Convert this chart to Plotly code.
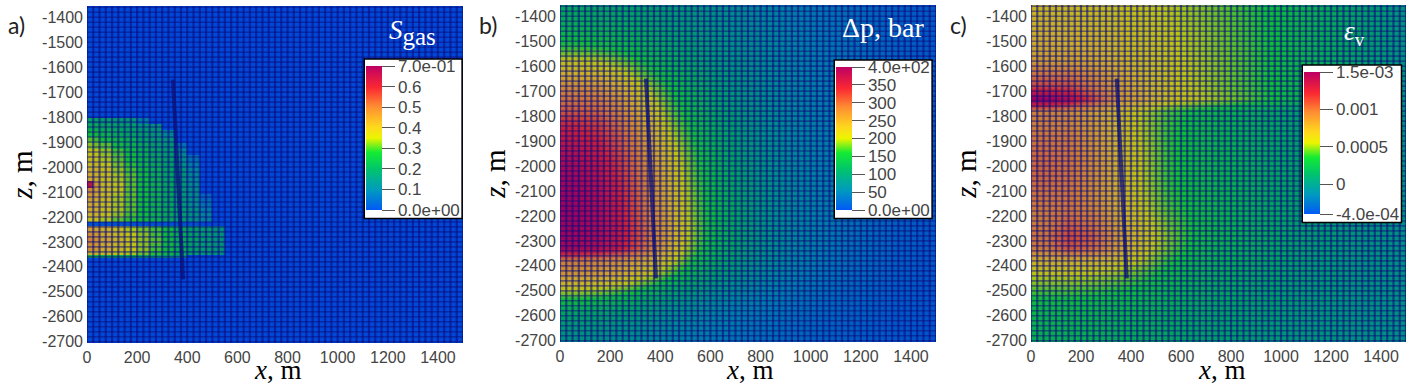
import numpy as np
import plotly.graph_objects as go

# ---------- colour scale (blue -> teal -> green -> yellow -> orange -> red -> crimson)
COLORSCALE = [
    [0.00, "rgb(0,90,245)"], [0.14, "rgb(0,155,190)"], [0.28, "rgb(0,195,110)"],
    [0.40, "rgb(20,235,50)"], [0.50, "rgb(235,245,0)"], [0.58, "rgb(255,215,30)"],
    [0.72, "rgb(255,140,50)"], [0.85, "rgb(250,40,50)"], [1.00, "rgb(190,0,100)"],
]

# ---------- panel a) gas saturation
a_x_edges = [0, 25, 50, 100, 150, 200, 250, 300, 350, 400, 450, 500, 550, 1500]
a_z_edges = [-1355, -1803, -1828, -1853, -1878, -1903, -1928, -1953, -1978, -2003, -2028,
             -2058, -2083, -2108, -2133, -2158, -2183, -2205, -2222, -2236, -2260, -2285,
             -2310, -2335, -2352, -2366, -2705]
a_sgas = [
    [0, 0, 0, 0, 0, 0, 0, 0, 0, 0, 0, 0, 0],
    [.20, .20, .19, .18, .17, .10, 0, 0, 0, 0, 0, 0, 0],
    [.23, .23, .22, .21, .20, .18, .17, 0, 0, 0, 0, 0, 0],
    [.27, .27, .25, .23, .21, .20, .18, .13, 0, 0, 0, 0, 0],
    [.31, .30, .28, .26, .24, .21, .19, .17, 0, 0, 0, 0, 0],
    [.33, .32, .31, .28, .25, .23, .20, .18, .08, 0, 0, 0, 0],
    [.36, .35, .33, .30, .27, .24, .21, .19, .13, 0, 0, 0, 0],
    [.37, .36, .34, .31, .28, .25, .22, .20, .15, .08, 0, 0, 0],
    [.38, .38, .35, .32, .29, .26, .23, .20, .16, .10, 0, 0, 0],
    [.40, .39, .37, .33, .30, .27, .24, .21, .17, .12, 0, 0, 0],
    [.41, .40, .37, .34, .31, .28, .24, .21, .17, .13, 0, 0, 0],
    [.63, .44, .38, .35, .31, .28, .25, .22, .18, .14, 0, 0, 0],
    [.46, .43, .38, .35, .31, .28, .25, .22, .18, .15, 0, 0, 0],
    [.43, .41, .38, .34, .31, .28, .25, .22, .18, .15, .06, 0, 0],
    [.42, .40, .37, .34, .31, .28, .25, .22, .18, .15, .08, 0, 0],
    [.41, .40, .37, .34, .31, .28, .25, .23, .19, .16, .10, 0, 0],
    [.39, .39, .36, .33, .30, .28, .25, .23, .19, .16, .12, 0, 0],
    [.36, .36, .34, .31, .29, .27, .25, .22, .18, .15, .11, 0, 0],
    [.02, .02, .02, .02, .02, .02, .02, .02, .02, .02, 0, 0, 0],
    [.43, .42, .40, .37, .34, .32, .30, .27, .22, .20, .19, .17, 0],
    [.46, .44, .41, .38, .35, .33, .30, .27, .23, .20, .19, .17, 0],
    [.47, .45, .42, .39, .36, .33, .31, .27, .23, .21, .19, .17, 0],
    [.45, .44, .41, .38, .36, .33, .30, .27, .23, .20, .19, .17, 0],
    [.40, .39, .38, .36, .34, .32, .29, .26, .22, .20, .18, .16, 0],
    [.26, .26, .25, .24, .23, .22, .21, .19, .16, 0, 0, 0, 0],
    [0, 0, 0, 0, 0, 0, 0, 0, 0, 0, 0, 0, 0],
]

# ---------- common sampling of panels b) and c)
field_x = [50, 150, 250, 350, 450, 550, 650, 750, 850, 950, 1050, 1150, 1250, 1350, 1450]
field_z = [-1380, -1430, -1480, -1530, -1580, -1630, -1680, -1730, -1780, -1830, -1880,
           -1930, -1980, -2030, -2080, -2130, -2180, -2230, -2280, -2330, -2380, -2430,
           -2480, -2530, -2580, -2630, -2680]

# ---------- panel b) pressure change, bar
b_dp = [
    [125, 122, 118, 112, 105, 95, 85, 75, 65, 55, 48, 40, 32, 25, 20],
    [135, 132, 128, 118, 108, 98, 88, 78, 68, 58, 50, 42, 34, 26, 20],
    [150, 146, 138, 126, 114, 102, 92, 80, 70, 60, 50, 42, 34, 26, 20],
    [172, 168, 155, 138, 122, 108, 95, 83, 72, 62, 52, 43, 35, 27, 20],
    [205, 198, 180, 155, 132, 114, 98, 85, 74, 63, 53, 44, 35, 27, 20],
    [232, 225, 205, 172, 142, 120, 102, 88, 76, 64, 54, 44, 36, 27, 20],
    [262, 255, 230, 190, 155, 128, 106, 90, 77, 65, 55, 45, 36, 27, 20],
    [285, 278, 250, 208, 165, 134, 110, 92, 78, 66, 55, 45, 36, 27, 20],
    [305, 296, 265, 222, 175, 140, 114, 95, 80, 67, 56, 46, 36, 27, 20],
    [335, 320, 282, 235, 185, 147, 118, 97, 81, 68, 57, 46, 37, 28, 20],
    [350, 335, 295, 245, 195, 152, 122, 99, 83, 69, 57, 46, 37, 28, 20],
    [365, 348, 305, 255, 205, 158, 125, 101, 84, 70, 58, 47, 37, 28, 20],
    [378, 358, 315, 262, 212, 163, 128, 103, 85, 70, 58, 47, 37, 28, 20],
    [385, 365, 322, 268, 218, 167, 131, 105, 86, 71, 58, 47, 37, 28, 20],
    [390, 372, 330, 272, 222, 170, 133, 106, 87, 71, 58, 47, 37, 28, 20],
    [392, 375, 335, 276, 225, 172, 135, 107, 87, 71, 58, 47, 37, 28, 20],
    [395, 378, 340, 280, 228, 174, 136, 107, 87, 71, 58, 46, 36, 27, 20],
    [392, 378, 345, 285, 232, 176, 136, 106, 86, 70, 57, 46, 36, 27, 20],
    [390, 378, 348, 288, 232, 175, 134, 105, 85, 69, 56, 45, 35, 27, 20],
    [385, 372, 340, 282, 225, 168, 130, 102, 83, 67, 55, 44, 35, 26, 19],
    [275, 268, 255, 235, 200, 150, 118, 95, 78, 64, 52, 42, 33, 25, 19],
    [255, 248, 235, 210, 170, 130, 105, 85, 70, 58, 48, 39, 31, 24, 18],
    [215, 208, 192, 165, 130, 108, 90, 75, 63, 52, 44, 36, 29, 22, 17],
    [165, 160, 145, 125, 105, 90, 76, 65, 55, 46, 39, 32, 26, 20, 16],
    [125, 122, 112, 100, 86, 75, 65, 56, 48, 41, 34, 29, 24, 18, 15],
    [105, 103, 96, 86, 75, 66, 57, 49, 43, 37, 31, 26, 22, 17, 14],
    [90, 88, 82, 75, 66, 58, 50, 44, 38, 33, 28, 24, 20, 16, 13],
]

# ---------- panel c) volumetric strain, in units of 1e-4
c_ev = [
    [6.5, 6.4, 6.2, 6.0, 5.7, 5.4, 5.0, 4.5, 4.0, 3.5, 3.0, 2.4, 1.8, 1.2, 0.6],
    [6.8, 6.7, 6.5, 6.2, 5.9, 5.5, 5.1, 4.6, 4.1, 3.5, 3.0, 2.4, 1.8, 1.2, 0.6],
    [7.0, 6.9, 6.7, 6.4, 6.0, 5.6, 5.2, 4.7, 4.1, 3.6, 3.0, 2.4, 1.8, 1.2, 0.6],
    [7.3, 7.2, 7.0, 6.5, 6.1, 5.7, 5.2, 4.7, 4.2, 3.6, 3.0, 2.4, 1.8, 1.2, 0.6],
    [7.8, 7.7, 7.3, 6.8, 6.2, 5.8, 5.3, 4.8, 4.2, 3.6, 3.0, 2.4, 1.8, 1.2, 0.6],
    [9.5, 9.4, 8.4, 7.4, 6.5, 5.9, 5.3, 4.8, 4.2, 3.6, 3.0, 2.4, 1.8, 1.2, 0.6],
    [11.0, 10.8, 9.2, 7.8, 6.8, 6.0, 5.4, 4.8, 4.2, 3.6, 3.0, 2.3, 1.7, 1.1, 0.5],
    [15.0, 13.6, 10.8, 8.2, 7.2, 6.2, 5.6, 5.0, 4.4, 3.7, 3.0, 2.3, 1.7, 1.1, 0.5],
    [9.0, 8.6, 7.6, 6.5, 5.3, 4.2, 3.5, 3.0, 2.5, 2.0, 1.5, 1.1, 0.8, 0.5, 0.3],
    [9.0, 8.8, 7.8, 6.6, 5.2, 4.0, 3.3, 2.8, 2.3, 1.9, 1.5, 1.1, 0.8, 0.5, 0.3],
    [9.4, 9.2, 8.0, 6.7, 5.2, 3.9, 3.2, 2.7, 2.3, 1.9, 1.5, 1.1, 0.8, 0.5, 0.3],
    [9.8, 9.5, 8.2, 6.8, 5.3, 3.9, 3.2, 2.7, 2.3, 1.8, 1.5, 1.1, 0.8, 0.5, 0.3],
    [10.0, 9.7, 8.4, 6.9, 5.3, 3.9, 3.2, 2.7, 2.3, 1.8, 1.5, 1.1, 0.8, 0.5, 0.3],
    [10.0, 9.7, 8.4, 6.9, 5.3, 3.9, 3.2, 2.7, 2.3, 1.8, 1.5, 1.1, 0.8, 0.5, 0.3],
    [9.8, 9.6, 8.4, 6.9, 5.3, 3.9, 3.2, 2.7, 2.3, 1.8, 1.5, 1.1, 0.8, 0.5, 0.3],
    [9.5, 9.5, 8.5, 7.0, 5.4, 4.0, 3.3, 2.7, 2.3, 1.8, 1.5, 1.1, 0.8, 0.5, 0.3],
    [9.2, 9.6, 8.8, 7.2, 5.6, 4.2, 3.4, 2.8, 2.3, 1.8, 1.5, 1.1, 0.8, 0.5, 0.3],
    [9.2, 10.2, 9.4, 7.5, 5.9, 4.5, 3.5, 2.8, 2.3, 1.9, 1.5, 1.1, 0.8, 0.5, 0.3],
    [9.5, 11.0, 10.2, 7.8, 6.1, 4.7, 3.5, 2.8, 2.3, 1.9, 1.4, 1.1, 0.8, 0.5, 0.3],
    [9.2, 10.6, 9.8, 7.6, 5.9, 4.5, 3.3, 2.6, 2.2, 1.8, 1.4, 1.1, 0.8, 0.5, 0.3],
    [6.8, 6.8, 6.6, 6.1, 5.2, 3.8, 2.8, 2.3, 2.0, 1.6, 1.3, 1.0, 0.7, 0.5, 0.3],
    [5.6, 5.6, 5.4, 5.0, 4.2, 3.2, 2.5, 2.1, 1.8, 1.5, 1.2, 0.9, 0.7, 0.4, 0.3],
    [4.6, 4.6, 4.4, 4.0, 3.5, 2.8, 2.3, 1.9, 1.6, 1.3, 1.1, 0.9, 0.6, 0.4, 0.3],
    [3.6, 3.6, 3.4, 3.2, 2.9, 2.4, 2.0, 1.7, 1.5, 1.2, 1.0, 0.8, 0.6, 0.4, 0.3],
    [3.0, 3.0, 2.9, 2.7, 2.4, 2.1, 1.8, 1.5, 1.3, 1.1, 0.9, 0.7, 0.5, 0.3, 0.2],
    [2.7, 2.7, 2.6, 2.4, 2.2, 1.9, 1.6, 1.4, 1.2, 1.0, 0.8, 0.6, 0.5, 0.3, 0.2],
    [2.5, 2.5, 2.4, 2.2, 2.0, 1.8, 1.5, 1.3, 1.1, 0.9, 0.7, 0.6, 0.4, 0.3, 0.2],
]

# ---------- well trajectory
well_x = [343, 383]
well_z = [-1650, -2450]

# ---------- axis ticks and colour-bar ticks
x_ticks = [0, 200, 400, 600, 800, 1000, 1200, 1400]
z_ticks = [-1400, -1500, -1600, -1700, -1800, -1900, -2000, -2100, -2200, -2300, -2400,
           -2500, -2600, -2700]
z_tick_text = ["-1400", "-1500", "-1600", "-1700", "-1800", "-1900", "-2000", "-2100", "-2200",
               "-2300", "-2400", "-2500", "-2600", "-2700"]
a_cb_vals = [0, .1, .2, .3, .4, .5, .6, .7]
a_cb_text = ["0.0e+00", "0.1", "0.2", "0.3", "0.4", "0.5", "0.6", "7.0e-01"]
b_cb_vals = [0, 50, 100, 150, 200, 250, 300, 350, 400]
b_cb_text = ["0.0e+00", "50", "100", "150", "200", "250", "300", "350", "4.0e+02"]
c_cb_vals = [-4, 0, 5, 10, 15]
c_cb_text = ["-4.0e-04", "0", "0.0005", "0.001", "1.5e-03"]

# ---------- mesh spacing of the simulation grid
MESH_DX, MESH_DZ = 25, 20
W, H = 1412, 389
X_RANGE = [0, 1500]
Z_RANGE = [-2705, -1355]
SANS = "Liberation Sans, Arial, sans-serif"
SERIF = "Liberation Serif, Times New Roman, serif"
TICK = "#444444"

fig = go.Figure()


def colorbar(vals, text, x_px, top_px, len_px):
    return dict(
        tickmode="array", tickvals=vals, ticktext=text,
        x=x_px / W, xanchor="left", y=1 - top_px / H, yanchor="top",
        lenmode="pixels", len=len_px, thicknessmode="pixels", thickness=16,
        xpad=1, ypad=7, outlinewidth=0, bgcolor="white", bordercolor="black", borderwidth=1.5,
        ticks="outside", ticklen=13, tickwidth=1, tickcolor="#555555",
        tickfont=dict(family=SANS, size=17, color=TICK),
    )


panels = [
    dict(ax="", x=a_x_edges, y=a_z_edges, z=a_sgas, zmin=0, zmax=0.7, smooth=False,
         left=87, right=463, top=6, bottom=343,
         cb=colorbar(a_cb_vals, a_cb_text, 365, 59, 158)),
    dict(ax="2", x=field_x, y=field_z, z=b_dp, zmin=0, zmax=400, smooth="best",
         left=560, right=936, top=5, bottom=342,
         cb=colorbar(b_cb_vals, b_cb_text, 835, 60, 157)),
    dict(ax="3", x=field_x, y=field_z, z=c_ev, zmin=-4, zmax=15, smooth="best",
         left=1031, right=1406, top=5, bottom=342,
         cb=colorbar(c_cb_vals, c_cb_text, 1303, 65, 156)),
]

mesh_x = np.arange(X_RANGE[0], X_RANGE[1] + 1, MESH_DX)
mesh_z = np.arange(-2700, Z_RANGE[1] + 1, MESH_DZ)
vert_x, vert_y, horz_x, horz_y = [], [], [], []
for v in mesh_x:
    vert_x += [v, v, None]
    vert_y += [Z_RANGE[0], Z_RANGE[1], None]
for v in mesh_z:
    horz_x += [X_RANGE[0], X_RANGE[1], None]
    horz_y += [v, v, None]

layout = dict(
    width=W, height=H, margin=dict(l=0, r=0, t=0, b=0, autoexpand=False),
    paper_bgcolor="white", plot_bgcolor="white", showlegend=False,
)
tints = []

for p in panels:
    xa, ya = "x" + p["ax"], "y" + p["ax"]
    fig.add_trace(go.Heatmap(
        x=p["x"], y=p["y"], z=p["z"], zmin=p["zmin"], zmax=p["zmax"], zsmooth=p["smooth"],
        colorscale=COLORSCALE, colorbar=p["cb"], xaxis=xa, yaxis=ya, hoverinfo="skip",
    ))
    fig.add_trace(go.Scatter(
        x=horz_x, y=horz_y, mode="lines", xaxis=xa, yaxis=ya, hoverinfo="skip",
        line=dict(color="rgba(15,15,130,0.5)", width=1.6, simplify=False),
    ))
    fig.add_trace(go.Scatter(
        x=vert_x, y=vert_y, mode="lines", xaxis=xa, yaxis=ya, hoverinfo="skip",
        line=dict(color="rgba(15,15,140,0.6)", width=2.2, simplify=False),
    ))
    fig.add_trace(go.Scatter(
        x=well_x, y=well_z, mode="lines", xaxis=xa, yaxis=ya, hoverinfo="skip",
        line=dict(color="rgba(15,20,130,0.75)", width=4),
    ))
    # uniform darkening: the reference's fine mesh blurs into the field colours
    tints.append(dict(type="rect", xref=xa + " domain", yref=ya + " domain", x0=0, x1=1, y0=0, y1=1,
                      fillcolor="rgba(0,0,90,0.2)", line=dict(width=0), layer="above"))
    layout["xaxis" + p["ax"]] = dict(
        domain=[p["left"] / W, p["right"] / W], range=X_RANGE, anchor=ya,
        tickmode="array", tickvals=x_ticks, showgrid=False, zeroline=False, ticks="",
        ticklabelstandoff=3, automargin=False,
        tickfont=dict(family=SANS, size=16, color=TICK),
    )
    layout["yaxis" + p["ax"]] = dict(
        domain=[1 - p["bottom"] / H, 1 - p["top"] / H], range=Z_RANGE, anchor=xa,
        tickmode="array", tickvals=z_ticks, ticktext=z_tick_text, showgrid=False, zeroline=False,
        ticks="", ticklabelstandoff=3, automargin=False,
        tickfont=dict(family=SANS, size=16, color=TICK),
        title=dict(text="<i>z</i>, m", font=dict(family=SERIF, size=29, color="black"), standoff=0),
    )

layout["shapes"] = tints


def note(text, x_px, y_px, family, size, color):
    return dict(text=text, x=x_px / W, y=1 - y_px / H, xref="paper", yref="paper", showarrow=False,
                xanchor="center", yanchor="middle", font=dict(family=family, size=size, color=color))


layout["annotations"] = [
    note("a)", 16, 25, "Lato", 23, "#222222"),
    note("b)", 488, 25, "Lato", 23, "#222222"),
    note("c)", 958, 25, "Lato", 23, "#222222"),
    note("<i>x</i>, m", 278, 370, SERIF, 27, "black"),
    note("<i>x</i>, m", 750, 370, SERIF, 27, "black"),
    note("<i>x</i>, m", 1222, 370, SERIF, 27, "black"),
    note('<i>S</i><sub><span style="font-size:25px">gas</span></sub>', 413, 32, SERIF, 27, "white"),
    note("Δp, bar", 883, 27, SERIF, 28, "white"),
    note("<i>ε</i><sub>v</sub>", 1354, 33, SERIF, 27, "white"),
]
fig.update_layout(**layout)

fig.write_html("out.html", post_script="document.body.style.margin='0';",
               config=dict(displayModeBar=False))
